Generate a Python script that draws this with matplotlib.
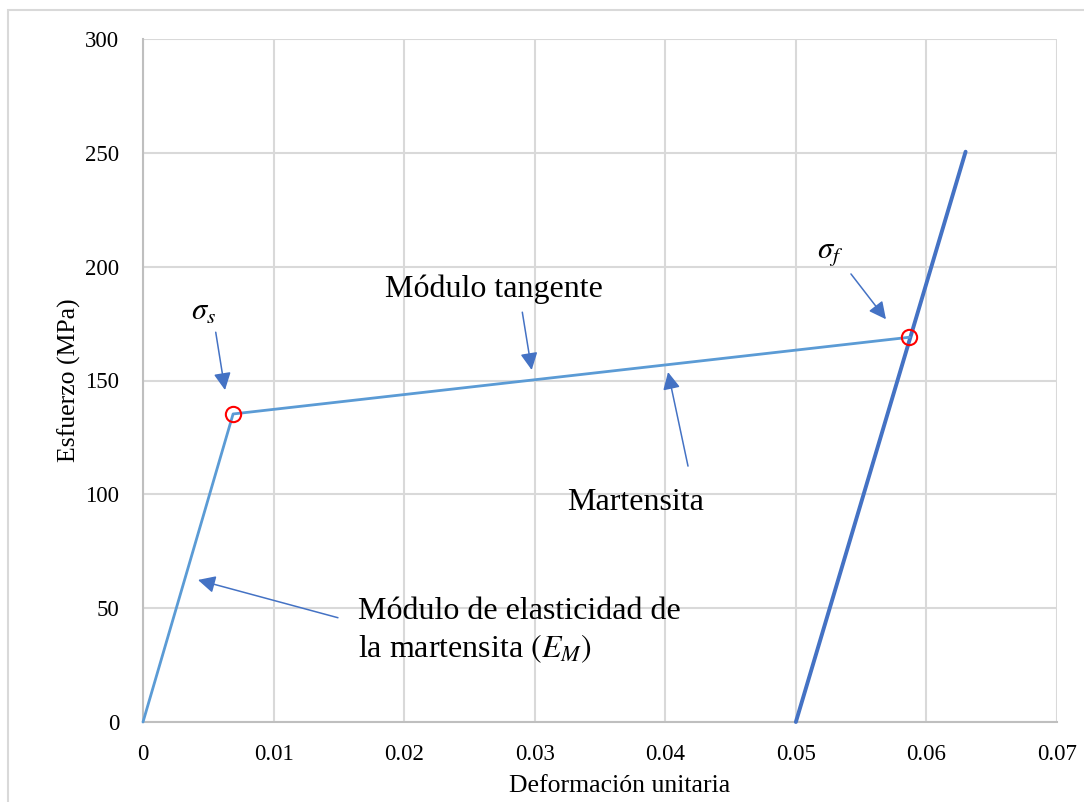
import matplotlib
matplotlib.use("Agg")
import matplotlib.pyplot as plt
from matplotlib.patches import Rectangle

# ---- data ----
strain_loading = [0.0, 0.0069, 0.0587]
stress_loading = [0.0, 135.3, 169.0]
strain_unload = [0.0500, 0.0630]
stress_unload = [0.0, 250.5]
key_strain = [0.0069, 0.0587]
key_stress = [135.3, 169.0]

x_ticks = [0, 0.01, 0.02, 0.03, 0.04, 0.05, 0.06, 0.07]
x_ticklabels = ["0", "0.01", "0.02", "0.03", "0.04", "0.05", "0.06", "0.07"]
y_ticks = [0, 50, 100, 150, 200, 250, 300]

plt.rcParams['font.family'] = ['Liberation Serif', 'DejaVu Serif']
plt.rcParams['mathtext.fontset'] = 'stix'

W, H = 1084, 802
fig = plt.figure(figsize=(W / 100, H / 100), dpi=100)
fig.patch.set_facecolor('white')
# outer frame (left/top visible)
fig.patches.append(Rectangle((8 / W, -0.05), 1.2, 1 - 10 / H + 0.05,
                             transform=fig.transFigure, fill=False,
                             edgecolor='#D9D9D9', lw=1.5, zorder=0))

ax = fig.add_axes([143 / W, 80 / H, (1057 - 143) / W, (722 - 39) / H])
ax.set_xlim(0, 0.07)
ax.set_ylim(0, 300)
ax.set_xticks(x_ticks)
ax.set_xticklabels(x_ticklabels)
ax.set_yticks(y_ticks)
ax.grid(True, color='#D9D9D9', lw=1.5)
ax.set_axisbelow(True)
for s in ['top', 'right']:
    ax.spines[s].set_visible(False)
for s in ['left', 'bottom']:
    ax.spines[s].set_color('#BFBFBF')
    ax.spines[s].set_linewidth(1.5)
ax.tick_params(length=0, labelsize=16.5, colors='black')
ax.tick_params(axis='y', pad=17)
ax.tick_params(axis='x', pad=16)
for lbl in ax.get_xticklabels() + ax.get_yticklabels():
    lbl.set_clip_on(False)

ax.set_xlabel("Deformación unitaria", fontsize=18.5, labelpad=5)
ax.set_ylabel("Esfuerzo (MPa)", fontsize=18.5, labelpad=3)
ax.xaxis.set_label_coords(0.522, -0.078)

ax.plot(strain_unload, stress_unload, color='#4472C4', lw=2.8,
        solid_capstyle='round', zorder=3, clip_on=False)
ax.plot(strain_loading, stress_loading, color='#5B9BD5', lw=2.0,
        solid_capstyle='round', zorder=4, clip_on=False)
ax.plot(key_strain, key_stress, linestyle='none', marker='o', ms=11,
        mfc='none', mec='#FF0000', mew=1.5, zorder=5)

arrow_kw = dict(arrowstyle='-|>', color='#4472C4', lw=1.1,
                mutation_scale=26, shrinkA=0, shrinkB=0)

ax.text(0.0046, 180.0, r"$\sigma_s$", fontsize=22, ha='center', va='center')
ax.annotate("", xy=(0.00628, 145.8), xytext=(0.00557, 171.2), arrowprops=arrow_kw)

ax.text(0.0269, 190.3, "Módulo tangente", fontsize=23, ha='center', va='center')
ax.annotate("", xy=(0.02977, 154.6), xytext=(0.02905, 180.0), arrowprops=arrow_kw)

ax.text(0.0526, 206.0, r"$\sigma_f$", fontsize=22, ha='center', va='center')
ax.annotate("", xy=(0.0569, 176.9), xytext=(0.05422, 196.8), arrowprops=arrow_kw)

ax.text(0.0377, 96.6, "Martensita", fontsize=23, ha='center', va='center')
ax.annotate("", xy=(0.04021, 153.7), xytext=(0.04174, 112.4), arrowprops=arrow_kw)

ax.text(0.01647, 40.0, "Módulo de elasticidad de\nla martensita $(E_M)$",
        fontsize=23, ha='left', va='center', linespacing=1.25)
ax.annotate("", xy=(0.00421, 62.4), xytext=(0.01493, 45.8), arrowprops=arrow_kw)

fig.savefig("out.png", dpi=100, facecolor='white')
